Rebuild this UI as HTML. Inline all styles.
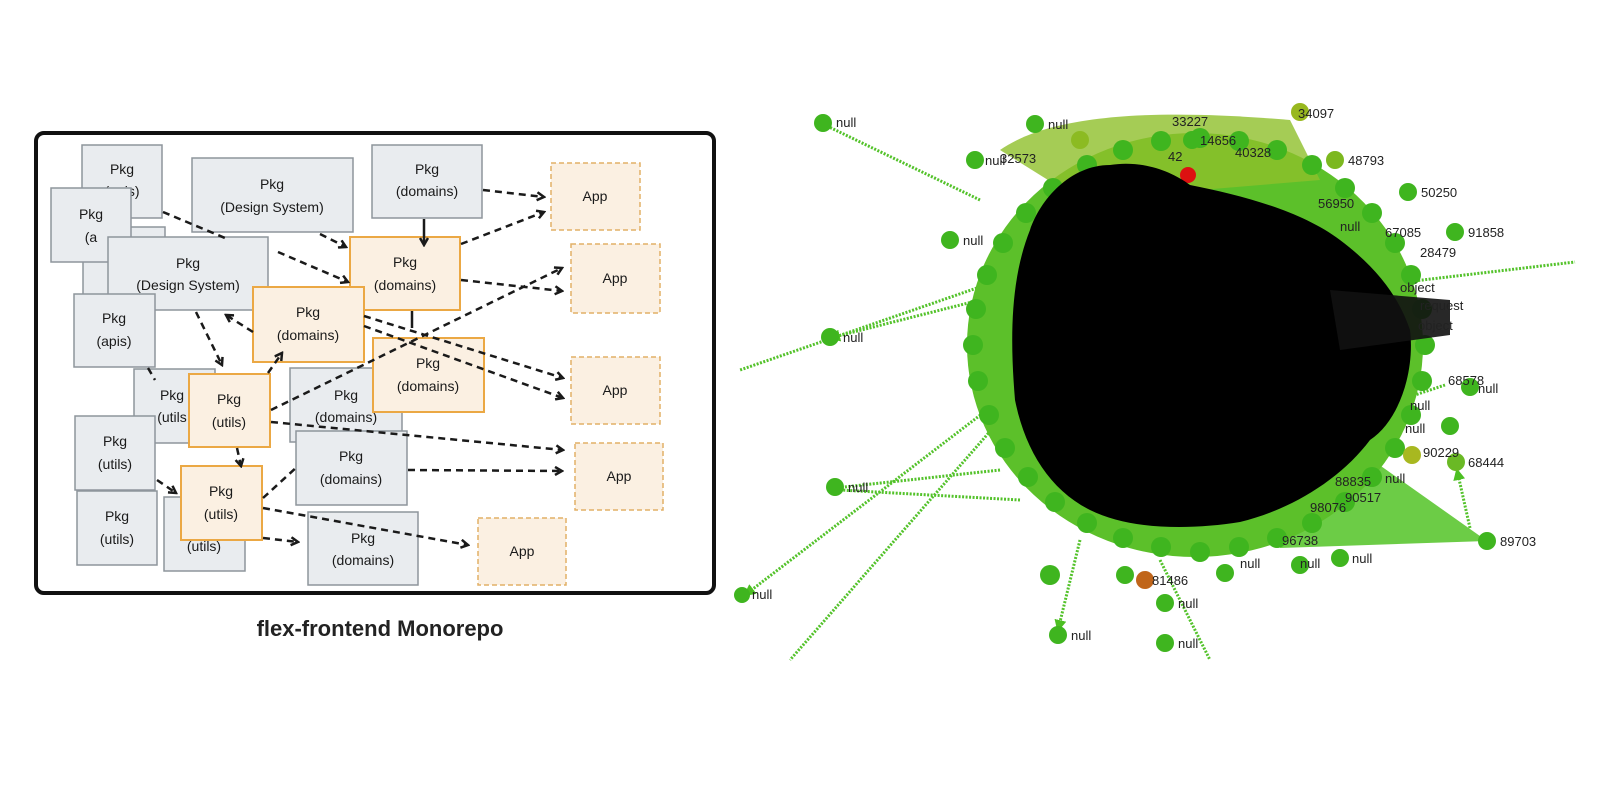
<!DOCTYPE html>
<html><head><meta charset="utf-8"><style>
html,body{margin:0;padding:0;background:#fff;width:1600px;height:800px;overflow:hidden}
svg{display:block}
.g{fill:#e9ecef;stroke:#8e959c;stroke-width:1.5}
.o{fill:#fbf0e2;stroke:#eba844;stroke-width:2}
.a{fill:#fbf0e2;stroke:#e2b067;stroke-width:1.5;stroke-dasharray:5 3}
.t{font-family:"Liberation Sans",sans-serif;font-size:14px;fill:#1a1a1a;text-anchor:middle}
.d{stroke:#1a1a1a;stroke-width:2.5;fill:none;stroke-dasharray:7 5}
.s{stroke:#1a1a1a;stroke-width:2.5;fill:none}
.n{font-family:"Liberation Sans",sans-serif;font-size:13px;fill:#222}
.c{fill:#3fb51f}
.gl{stroke:#53c22a;stroke-width:3;stroke-dasharray:2 1.5;fill:none}
</style></head><body>
<svg width="1600" height="800" viewBox="0 0 1600 800" xmlns="http://www.w3.org/2000/svg">
<defs>
<marker id="ar" markerWidth="10" markerHeight="10" refX="8" refY="5" orient="auto" markerUnits="userSpaceOnUse">
<path d="M1,1 L8,5 L1,9" stroke="#1a1a1a" stroke-width="2.5" fill="none"/></marker>
<marker id="ga" markerWidth="12" markerHeight="12" refX="10" refY="6" orient="auto" markerUnits="userSpaceOnUse">
<path d="M0,0 L12,6 L0,12 z" fill="#4cbf22"/></marker>
</defs>
<rect x="36" y="133" width="678" height="460" rx="8" fill="#fff" stroke="#111" stroke-width="4"/>

<rect class="g" x="83" y="227" width="82" height="70"/>
<rect class="g" x="82" y="145" width="80" height="73"/>
<text class="t" x="122" y="174">Pkg</text><text class="t" x="122" y="196">(apis)</text>
<rect class="g" x="51" y="188" width="80" height="74"/>
<text class="t" x="91" y="219">Pkg</text><text class="t" x="91" y="242">(a</text>
<rect class="g" x="192" y="158" width="161" height="74"/>
<text class="t" x="272" y="189">Pkg</text><text class="t" x="272" y="212">(Design System)</text>
<rect class="g" x="372" y="145" width="110" height="73"/>
<text class="t" x="427" y="174">Pkg</text><text class="t" x="427" y="196">(domains)</text>
<rect class="g" x="108" y="237" width="160" height="73"/>
<text class="t" x="188" y="268">Pkg</text><text class="t" x="188" y="290">(Design System)</text>
<rect class="g" x="74" y="294" width="81" height="73"/>
<text class="t" x="114" y="323">Pkg</text><text class="t" x="114" y="346">(apis)</text>
<rect class="g" x="134" y="369" width="81" height="74"/>
<text class="t" x="172" y="400">Pkg</text><text class="t" x="172" y="422">(utils</text>
<rect class="g" x="290" y="368" width="112" height="74"/>
<text class="t" x="346" y="400">Pkg</text><text class="t" x="346" y="422">(domains)</text>
<rect class="g" x="75" y="416" width="80" height="74"/>
<text class="t" x="115" y="446">Pkg</text><text class="t" x="115" y="469">(utils)</text>
<rect class="g" x="296" y="431" width="111" height="74"/>
<text class="t" x="351" y="461">Pkg</text><text class="t" x="351" y="484">(domains)</text>
<rect class="g" x="77" y="491" width="80" height="74"/>
<text class="t" x="117" y="521">Pkg</text><text class="t" x="117" y="544">(utils)</text>
<rect class="g" x="164" y="497" width="81" height="74"/>
<text class="t" x="204" y="551">(utils)</text>
<rect class="g" x="308" y="512" width="110" height="73"/>
<text class="t" x="363" y="543">Pkg</text><text class="t" x="363" y="565">(domains)</text>

<rect class="o" x="350" y="237" width="110" height="73"/>
<text class="t" x="405" y="267">Pkg</text><text class="t" x="405" y="290">(domains)</text>
<rect class="o" x="253" y="287" width="111" height="75"/>
<text class="t" x="308" y="317">Pkg</text><text class="t" x="308" y="340">(domains)</text>
<rect class="o" x="373" y="338" width="111" height="74"/>
<text class="t" x="428" y="368">Pkg</text><text class="t" x="428" y="391">(domains)</text>
<rect class="o" x="189" y="374" width="81" height="73"/>
<text class="t" x="229" y="404">Pkg</text><text class="t" x="229" y="427">(utils)</text>
<rect class="o" x="181" y="466" width="81" height="74"/>
<text class="t" x="221" y="496">Pkg</text><text class="t" x="221" y="519">(utils)</text>

<rect class="a" x="551" y="163" width="89" height="67"/><text class="t" x="595" y="201">App</text>
<rect class="a" x="571" y="244" width="89" height="69"/><text class="t" x="615" y="283">App</text>
<rect class="a" x="571" y="357" width="89" height="67"/><text class="t" x="615" y="395">App</text>
<rect class="a" x="575" y="443" width="88" height="67"/><text class="t" x="619" y="481">App</text>
<rect class="a" x="478" y="518" width="88" height="67"/><text class="t" x="522" y="556">App</text>

<path class="d" d="M483,190 L544,197" marker-end="url(#ar)"/>
<path class="s" d="M424,219 L424,245" marker-end="url(#ar)"/>
<path class="d" d="M461,244 L544,212" marker-end="url(#ar)"/>
<path class="d" d="M461,280 L562,291" marker-end="url(#ar)"/>
<path class="d" d="M320,234 L346,247" marker-end="url(#ar)"/>
<path class="d" d="M278,252 L348,282" marker-end="url(#ar)"/>
<path class="d" d="M163,212 L225,238"/>
<path class="d" d="M364,316 L563,378" marker-end="url(#ar)"/>
<path class="d" d="M364,326 L563,398" marker-end="url(#ar)"/>
<path class="d" d="M271,410 L562,268" marker-end="url(#ar)"/>
<path class="s" d="M412,311 L412,328"/>
<path class="d" d="M196,312 L222,365" marker-end="url(#ar)"/>
<path class="d" d="M253,332 L226,315" marker-end="url(#ar)"/>
<path class="d" d="M268,373 L282,353" marker-end="url(#ar)"/>
<path class="d" d="M148,368 L155,380"/>
<path class="d" d="M271,422 L563,450" marker-end="url(#ar)"/>
<path class="d" d="M237,448 L241,466" marker-end="url(#ar)"/>
<path class="d" d="M157,480 L176,493" marker-end="url(#ar)"/>
<path class="d" d="M263,498 L298,466"/>
<path class="d" d="M263,508 L468,545" marker-end="url(#ar)"/>
<path class="d" d="M263,538 L298,542" marker-end="url(#ar)"/>
<path class="d" d="M408,470 L562,471" marker-end="url(#ar)"/>

<text x="380" y="636" style="font-family:'Liberation Sans',sans-serif;font-size:22px;font-weight:bold;fill:#222;text-anchor:middle">flex-frontend Monorepo</text>

<!-- RIGHT GRAPH -->
<g>
<path class="gl" d="M1000,280 L740,370"/>
<path class="gl" d="M1380,285 L1575,262"/>
<path class="gl" d="M1000,400 L745,595" marker-end="url(#ga)"/>
<path class="gl" d="M980,300 L830,338" marker-end="url(#ga)"/>
<path class="gl" d="M1000,470 L835,488"/>
<path class="gl" d="M1020,500 L840,490"/>
<path class="gl" d="M1080,540 L1058,630" marker-end="url(#ga)"/>
<path class="gl" d="M1160,560 L1210,660"/>
<path class="gl" d="M1000,420 L790,660"/>
<path class="gl" d="M980,200 L825,125"/>
<path class="gl" d="M1470,528 L1457,470" marker-end="url(#ga)"/>
<path class="gl" d="M1400,400 L1445,385"/>
<path d="M1330,430 L1487,541 L1280,548 Z" fill="#52c326" opacity="0.85"/>
<ellipse cx="1195" cy="345" rx="228" ry="212" fill="#5cc02a"/>
<path d="M1000,150 C1050,115 1150,108 1290,120 L1320,180 L1080,200 Z" fill="#8fbf2a" opacity="0.8"/>
<g class="c">
<circle cx="1425" cy="345" r="10"/><circle cx="1422" cy="381" r="10"/><circle cx="1411" cy="415" r="10"/>
<circle cx="1395" cy="448" r="10"/><circle cx="1372" cy="477" r="10"/><circle cx="1345" cy="502" r="10"/>
<circle cx="1312" cy="523" r="10"/><circle cx="1277" cy="538" r="10"/><circle cx="1239" cy="547" r="10"/>
<circle cx="1200" cy="552" r="10"/><circle cx="1161" cy="547" r="10"/><circle cx="1123" cy="538" r="10"/>
<circle cx="1087" cy="523" r="10"/><circle cx="1055" cy="502" r="10"/><circle cx="1028" cy="477" r="10"/>
<circle cx="1005" cy="448" r="10"/><circle cx="989" cy="415" r="10"/><circle cx="978" cy="381" r="10"/>
<circle cx="973" cy="345" r="10"/><circle cx="976" cy="309" r="10"/><circle cx="987" cy="275" r="10"/>
<circle cx="1003" cy="243" r="10"/><circle cx="1026" cy="213" r="10"/><circle cx="1053" cy="188" r="10"/>
<circle cx="1087" cy="165" r="10"/><circle cx="1123" cy="150" r="10"/><circle cx="1161" cy="141" r="10"/>
<circle cx="1200" cy="138" r="10"/><circle cx="1239" cy="141" r="10"/><circle cx="1277" cy="150" r="10"/>
<circle cx="1312" cy="165" r="10"/><circle cx="1345" cy="188" r="10"/><circle cx="1372" cy="213" r="10"/>
<circle cx="1395" cy="243" r="10"/><circle cx="1411" cy="275" r="10"/><circle cx="1422" cy="309" r="10"/>
<circle cx="823" cy="123" r="9"/><circle cx="1035" cy="124" r="9"/><circle cx="1192" cy="140" r="9"/>
<circle cx="1335" cy="160" r="9" fill="#7cb81f"/><circle cx="1408" cy="192" r="9"/><circle cx="1455" cy="232" r="9"/>
<circle cx="950" cy="240" r="9"/><circle cx="830" cy="337" r="9"/><circle cx="1487" cy="541" r="9"/>
<circle cx="1456" cy="462" r="9" fill="#6ab925"/><circle cx="1412" cy="455" r="9" fill="#a8b820"/>
<circle cx="1470" cy="387" r="9"/><circle cx="1450" cy="426" r="9"/><circle cx="835" cy="487" r="9"/>
<circle cx="1058" cy="635" r="9"/><circle cx="1165" cy="643" r="9"/><circle cx="1165" cy="603" r="9"/>
<circle cx="1145" cy="580" r="9" fill="#c0651a"/><circle cx="1125" cy="575" r="9"/><circle cx="1225" cy="573" r="9"/>
<circle cx="1300" cy="565" r="9"/><circle cx="1340" cy="558" r="9"/><circle cx="1050" cy="575" r="10"/>
<circle cx="975" cy="160" r="9"/><circle cx="1080" cy="140" r="9" fill="#8cbb22"/>
<circle cx="1300" cy="112" r="9" fill="#98b81f"/><circle cx="742" cy="595" r="8"/>
</g>
<circle cx="1188" cy="175" r="8" fill="#dd1111"/>
<path d="M1030,230 C1040,200 1070,165 1110,165 C1140,160 1170,170 1190,185 C1240,195 1300,210 1340,240 C1380,270 1400,300 1410,330 C1415,370 1400,420 1370,440 C1340,480 1290,510 1240,522 C1190,530 1130,530 1090,510 C1050,490 1025,450 1015,400 C1010,340 1010,280 1030,230 Z" fill="#000"/>
<path d="M1330,290 L1450,300 L1450,335 L1340,350 Z" fill="#111" opacity="0.9"/>
<g class="n">
<text x="836" y="127">null</text><text x="1048" y="129">null</text><text x="1172" y="126">33227</text><text x="1298" y="118">34097</text>
<text x="1200" y="145">14656</text><text x="1168" y="161">42</text><text x="1235" y="157">40328</text>
<text x="1348" y="165">48793</text><text x="1421" y="197">50250</text><text x="1468" y="237">91858</text>
<text x="1420" y="257">28479</text><text x="1385" y="237">67085</text><text x="963" y="245">null</text>
<text x="843" y="342">null</text><text x="1500" y="546">89703</text><text x="1468" y="467">68444</text>
<text x="1423" y="457">90229</text><text x="1478" y="393">null</text><text x="1448" y="385">68578</text>
<text x="1405" y="433">null</text><text x="1410" y="410">null</text><text x="848" y="492">null</text>
<text x="752" y="599">null</text><text x="1071" y="640">null</text><text x="1178" y="648">null</text>
<text x="1178" y="608">null</text><text x="1152" y="585">81486</text><text x="1282" y="545">96738</text>
<text x="1352" y="563">null</text><text x="1310" y="512">98076</text><text x="1345" y="502">90517</text>
<text x="1385" y="483">null</text><text x="1335" y="486">88835</text><text x="985" y="165">null</text>
<text x="1000" y="163">32573</text><text x="1318" y="208">56950</text><text x="1340" y="231">null</text>
<text x="1400" y="292">object</text><text x="1420" y="310">request</text><text x="1418" y="330">object</text>
<text x="1240" y="568">null</text><text x="1300" y="568">null</text>
</g>
</g>
</svg>
</body></html>
